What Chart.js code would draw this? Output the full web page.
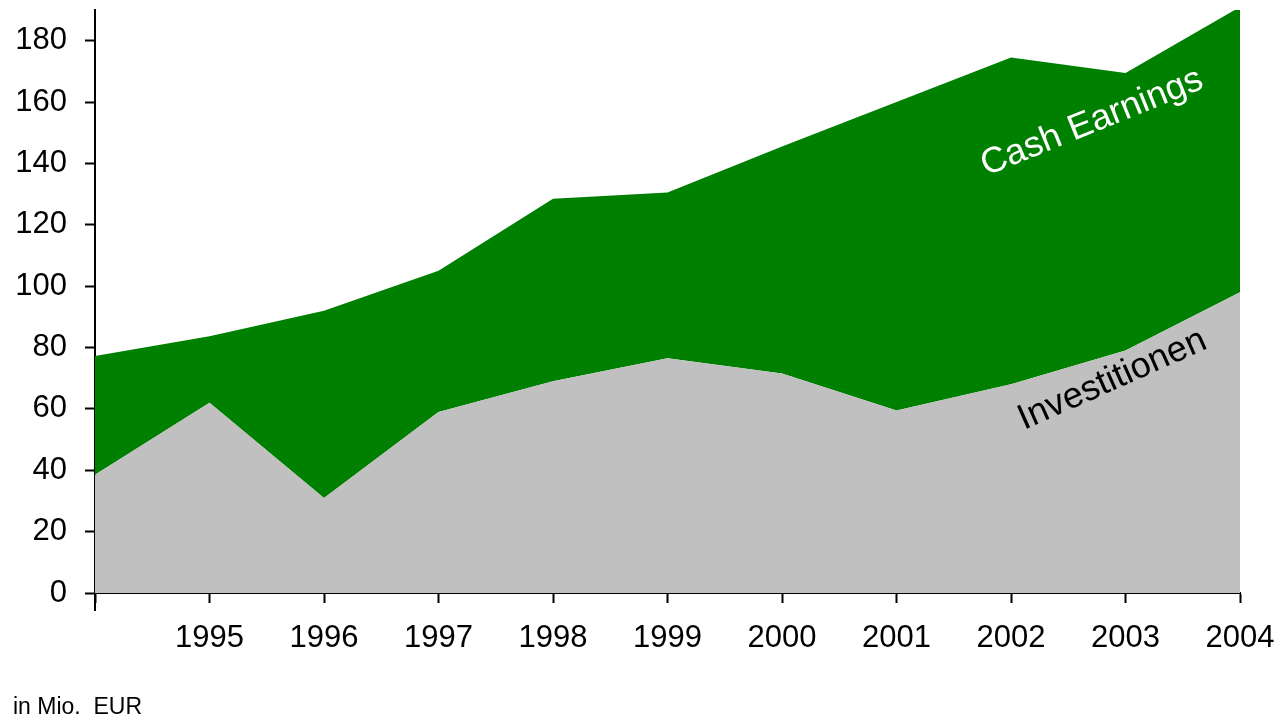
<!DOCTYPE html>
<html>
<head>
<meta charset="utf-8">
<script src="https://cdn.jsdelivr.net/npm/chart.js@4/dist/chart.umd.min.js"></script>
<style>
  html, body { margin: 0; padding: 0; background: #fff; }
  #wrap { width: 1286px; height: 719px; position: relative; }
</style>
</head>
<body>
<div id="wrap"><canvas id="myChart"></canvas></div>
<script>
// The data (in Mio. EUR)
var years = ['1994', '1995', '1996', '1997', '1998', '1999', '2000', '2001', '2002', '2003', '2004'];
var investitionen = [38.5, 62, 31, 59, 69, 76.5, 71.5, 59.5, 68, 79, 98];
var cashEarnings = [38.7, 21.7, 61, 46, 59.5, 54, 74, 100.5, 106.5, 90.5, 93];
var yTicks = [0, 20, 40, 60, 80, 100, 120, 140, 160, 180];

var fontName = "'Liberation Sans', Arial, sans-serif";

// the rotated series names written inside the areas
var areaLabels = [
  {text: 'Cash Earnings', x: 8.74, y: 150.3, angle: -22, color: '#ffffff'},
  {text: 'Investitionen', x: 8.92, y: 66.5, angle: -24, color: '#000000'}
];

var labelPlugin = {
  id: 'areaLabels',
  afterDatasetsDraw: function(chart) {
    var ctx = chart.ctx;
    var xs = chart.scales.x, ys = chart.scales.y;
    areaLabels.forEach(function(l) {
      ctx.save();
      ctx.translate(xs.getPixelForValue(l.x), ys.getPixelForValue(l.y));
      ctx.rotate(l.angle * Math.PI / 180);
      ctx.font = '36px ' + fontName;
      ctx.fillStyle = l.color;
      ctx.textAlign = 'center';
      ctx.textBaseline = 'alphabetic';
      ctx.fillText(l.text, 0, 0);
      ctx.restore();
    });
  },
  afterDraw: function(chart) {
    // the y axis line runs on below the x axis
    var ctx = chart.ctx;
    var x0 = chart.scales.x.getPixelForValue(0);
    var b = chart.chartArea.bottom;
    ctx.save();
    ctx.strokeStyle = '#000';
    ctx.lineWidth = 2;
    ctx.beginPath();
    ctx.moveTo(x0, b);
    ctx.lineTo(x0, b + 18);
    ctx.stroke();
    ctx.restore();
  }
};

var chartData = {
  labels: years,
  datasets: [{
    label: 'Investitionen',
    data: investitionen,
    backgroundColor: '#C0C0C0',
    borderWidth: 0,
    pointRadius: 0,
    fill: 'origin'
  }, {
    label: 'Cash Earnings',
    data: cashEarnings,
    backgroundColor: '#008000',
    borderWidth: 0,
    pointRadius: 0,
    fill: '-1'
  }]
};

var chartOptions = {
  responsive: true,
  maintainAspectRatio: false,
  animation: false,
  layout: {
    padding: {left: 13, right: 46, top: 10, bottom: 0}
  },
  plugins: {
    legend: {display: false},
    tooltip: {enabled: false},
    title: {
      display: true,
      text: 'in Mio.  EUR',
      position: 'bottom',
      align: 'start',
      color: '#000',
      font: {family: fontName, size: 23, weight: 'normal', lineHeight: 1},
      padding: {top: 0, bottom: 0}
    }
  },
  scales: {
    x: {
      offset: false,
      grid: {drawOnChartArea: false, drawTicks: true, tickLength: 10, tickWidth: 2, tickColor: '#000'},
      border: {display: true, color: '#000', width: 2},
      ticks: {
        color: '#000',
        font: {family: fontName, size: 31},
        padding: 17,
        maxRotation: 0,
        autoSkip: false,
        callback: function(value, index) {
          return index === 0 ? '' : years[index];
        }
      },
      afterFit: function(scale) {
        scale.height = 103;
        scale.paddingLeft = 0;
        scale.paddingRight = 0;
      }
    },
    y: {
      stacked: true,
      min: 0,
      max: 190,
      grid: {drawOnChartArea: false, drawTicks: true, tickLength: 10, tickWidth: 2, tickColor: '#000'},
      border: {display: true, color: '#000', width: 2},
      afterBuildTicks: function(scale) {
        scale.ticks = yTicks.map(function(v) { return {value: v}; });
      },
      ticks: {
        color: '#000',
        font: {family: fontName, size: 31},
        padding: 18
      },
      afterFit: function(scale) {
        scale.width = 82;
        scale.paddingTop = 0;
        scale.paddingBottom = 0;
      }
    }
  }
};

var element = document.getElementById('myChart').getContext('2d');
var chart = new Chart(element, {type: 'line', data: chartData, options: chartOptions, plugins: [labelPlugin]});
</script>
</body>
</html>
